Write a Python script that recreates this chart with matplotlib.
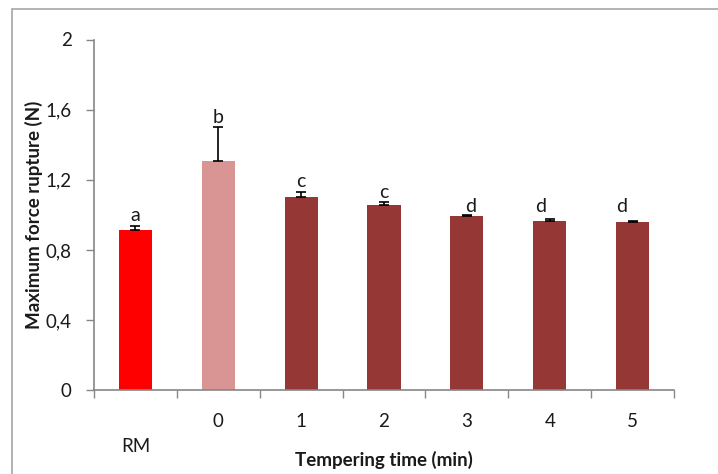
import matplotlib
matplotlib.use('Agg')
import matplotlib.pyplot as plt
from matplotlib.patches import Rectangle

# values
categories = ['RM', '0', '1', '2', '3', '4', '5']
force = [0.914, 1.309, 1.104, 1.058, 0.995, 0.967, 0.958]
force_err = [0.025, 0.194, 0.027, 0.014, 0.004, 0.010, 0.007]
letters = ['a', 'b', 'c', 'c', 'd', 'd', 'd']
letter_y = [0.995, 1.555, 1.19, 1.125, 1.05, 1.05, 1.05]
letter_dx = [0.0, 0.0, 0.0, 0.0, 0.04, -0.11, -0.13]
bar_colors = ['#ff0000', '#d99594', '#953735', '#953735', '#953735', '#953735', '#953735']
yticks = [0, 0.4, 0.8, 1.2, 1.6, 2.0]
ytick_labels = ['0', '0,4', '0,8', '1,2', '1,6', '2']

plt.rcParams['font.family'] = ['Lato', 'DejaVu Sans']
text_color = '#1a1a1a'
axis_gray = '#868686'

fig = plt.figure(figsize=(7.18, 4.74), dpi=100)
ax = fig.add_axes([94 / 718, 1 - 390.3 / 474, 580 / 718, 350.8 / 474])

# outer frame of the original chart (cut at right and bottom)
fig.patches.append(Rectangle((12 / 718, -0.1), 1.2, (474 - 9.5) / 474 + 0.1,
                             transform=fig.transFigure, fill=False,
                             edgecolor='#a6a6a6', linewidth=1.2))

x = list(range(len(categories)))
ax.bar(x, force, width=0.4, color=bar_colors, zorder=2)
ax.errorbar(x, force, yerr=[[0] * len(force), force_err], fmt='none',
            ecolor='black', elinewidth=1.2, capsize=3.3, capthick=1.2, zorder=3)

for i, lab in enumerate(letters):
    ax.text(x[i] + letter_dx[i], letter_y[i], lab, ha='center', va='center',
            fontsize=14, color=text_color)

ax.set_xlim(-0.5, len(categories) - 0.5)
ax.set_ylim(0, 2)
ax.set_yticks(yticks)
ax.set_yticklabels(ytick_labels)

# tick marks at the category boundaries, labels at the centres
ax.set_xticks([i - 0.5 for i in range(len(categories) + 1)])
ax.set_xticklabels([])
ax.set_xticks(x, minor=True)
ax.set_xticklabels(categories, minor=True)
ax.tick_params(axis='x', which='major', direction='out', length=6, width=1, color=axis_gray)
ax.tick_params(axis='x', which='minor', length=0, pad=16, labelsize=13.5, labelcolor=text_color)
ax.tick_params(axis='y', direction='out', length=6, width=1, color=axis_gray,
               pad=10, labelsize=13.5, labelcolor=text_color)
ax.xaxis.get_minor_ticks()[0].set_pad(34)

for side in ['top', 'right']:
    ax.spines[side].set_visible(False)
for side in ['left', 'bottom']:
    ax.spines[side].set_color(axis_gray)
    ax.spines[side].set_linewidth(1.2)

ax.set_ylabel('Maximum force rupture (N)', fontsize=13.5, fontweight='bold', color=text_color)
ax.yaxis.set_label_coords(-0.088, 0.5)
ax.set_xlabel('Tempering time (min)', fontsize=13.5, fontweight='bold', color=text_color)
ax.xaxis.set_label_coords(0.5, -0.172)

fig.savefig('out.png', dpi=100)
plt.close(fig)
